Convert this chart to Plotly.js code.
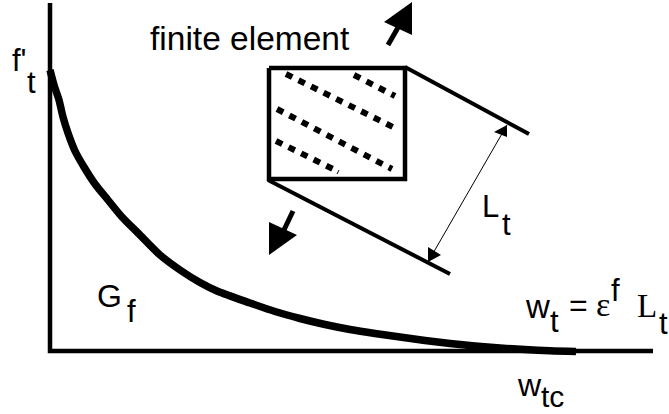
<!DOCTYPE html>
<html><head><meta charset="utf-8">
<script src="https://cdn.plot.ly/plotly-3.0.1.min.js"></script>
<style>html,body{margin:0;padding:0;background:#fff}#c{width:669px;height:414px}</style>
</head><body><div id="c"></div>
<script>
const curveX=[50,54,59,63,68,75,84,95,108,122,138,160,180,200,217,250,275,300,325,350,375,400,425,450,475,500,525,550,576];
const curveY=[70,85,100,117,133,151,167,184,200,217,233,255,270,282.5,291,303,311.5,318.5,324.5,329.5,333.5,337,340.5,343.5,346,348,349.5,350.7,351.5];
const axisX=[50,50,653], axisY=[3,351,351];
const boxX=[269,405,405,269,269], boxY=[68,68,179,179,68];
const edgeTopX=[405,529], edgeTopY=[67,134];
const edgeBotX=[268,450], edgeBotY=[180,274];
const dimX=[507,428], dimY=[125,262];
const dotRows=[[[286,74],[393,127]],[[354,75],[395,96]],[[277,109],[392,169]],[[276,141],[333,169]]];
const nickX=[337,339], nickY=[174,170];
const heads=[
 [[412,384,412,412],[2,22,35,2]],
 [[269,297,269,269],[222,235,255,222]],
 [[507,494,507,507],[125,132,137,125]],
 [[428,428,441,428],[262,247,255,262]]];
const shafts=[[[388,400],[45,24]],[[293,283],[211,232]]];
const labelText=['finite element','f\'','t','G','f','L','t','w','t','=','ε','f','L','t','w','tc'];
const labelX=[150,12,26.5,97,127,482,502,525,550,569,596,611,637,659,517,541];
const labelY=[38,60,82,296,311,206,224,306,321,305,304,290,306,323,385,396];
const labelSize=[33.5,31,31,32,31,31,31,33,31,32,34,31,33,31,32,30];
const labelFont=['Liberation Sans','Liberation Sans','Liberation Sans','Liberation Sans','Liberation Sans','Liberation Sans','Liberation Sans','Liberation Sans','Liberation Sans','Liberation Sans','Liberation Serif','Liberation Sans','Liberation Serif','Liberation Sans','Liberation Sans','Liberation Sans'];

const ln=(x,y,w,extra)=>({x,y,mode:'lines',type:'scatter',hoverinfo:'skip',line:Object.assign({color:'#000',width:w,simplify:false},extra||{})});
const fill=(x,y)=>({x,y,mode:'lines',type:'scatter',fill:'toself',fillcolor:'#000',hoverinfo:'skip',line:{color:'#000',width:0}});
const traces=[
 ln(axisX,axisY,4.5),
 ln(curveX,curveY,7.5,{shape:'spline',smoothing:0.8}),
 ln(boxX,boxY,4.5),
 ln(edgeTopX,edgeTopY,4),
 ln(edgeBotX,edgeBotY,4),
 ln(dimX,dimY,1),
 ln(nickX,nickY,1)
];
dotRows.forEach(r=>traces.push(ln([r[0][0],r[1][0]],[r[0][1],r[1][1]],6,{dash:'7px,7px'})));
heads.forEach(h=>traces.push(fill(h[0],h[1])));
shafts.forEach(s=>traces.push(ln(s[0],s[1],5)));
const annotations=labelText.map((t,i)=>({text:t,x:labelX[i],y:labelY[i],xref:'x',yref:'y',xanchor:'left',yanchor:'middle',showarrow:false,borderpad:0,borderwidth:0,
  font:{family:labelFont[i],size:labelSize[i],color:'#000'}}));
Plotly.newPlot('c',traces,{width:669,height:414,margin:{l:0,r:0,t:0,b:0},showlegend:false,paper_bgcolor:'#fff',plot_bgcolor:'#fff',
 xaxis:{range:[0,669],visible:false,fixedrange:true},yaxis:{range:[414,0],visible:false,fixedrange:true},annotations},{displayModeBar:false,staticPlot:true});
</script></body></html>
